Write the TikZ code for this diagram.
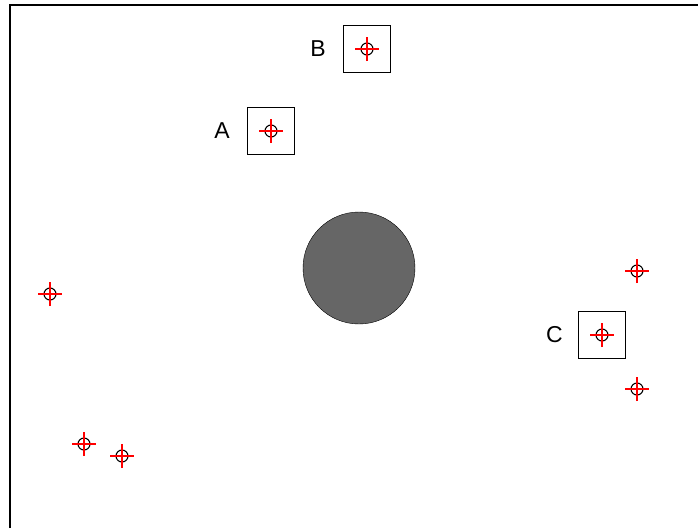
\documentclass[tikz,border=0pt]{standalone}
\usepackage{fontspec}
\setmainfont{Liberation Sans}
\usepackage{tikz}
\usetikzlibrary{positioning}
\definecolor{discgray}{HTML}{666666}
\definecolor{crossred}{RGB}{255,0,0}

\begin{document}
\begin{tikzpicture}[x=1pt, y=-1pt,
  target/.style={circle, draw=black, line width=1.1pt, minimum size=12pt, inner sep=0pt},
  cross/.style={draw=crossred, line width=1.3pt},
  markbox/.style={rectangle, draw=black, line width=1pt, minimum size=47pt, inner sep=0pt},
  tag/.style={font=\fontsize{23}{27}\selectfont, inner sep=2pt}
]
\useasboundingbox (0,0) rectangle (698,528);
% frame
\draw[line width=2pt] (10,528) -- (10,5) -- (698,5);
% central disc
\node[circle, draw=black, fill=discgray, minimum size=112pt, inner sep=0pt] (disc) at (359,268) {};
% boxed targets
\node[markbox] (boxA) at (271,131) {};
\node[markbox] (boxB) at (367,49) {};
\node[markbox] (boxC) at (602,335) {};
\node[tag, left=15pt of boxA] (labA) {A};
\node[tag, left=15pt of boxB] (labB) {B};
\node[tag, left=13pt of boxC] (labC) {C};
\node[target] (tA) at (boxA) {};
\node[target] (tB) at (boxB) {};
\node[target] (tC) at (boxC) {};
% free targets
\node[target] (t1) at (50,294) {};
\node[target] (t2) at (84,444) {};
\node[target] (t3) at (122,456) {};
\node[target] (t4) at (637,271) {};
\node[target] (t5) at (637,389) {};
% crosshairs
\foreach \m in {tA,tB,tC,t1,t2,t3,t4,t5}
  \path[cross] (\m.center) +(-12pt,0) edge +(12pt,0) +(0,-12pt) edge +(0,12pt);
\end{tikzpicture}
\end{document}
